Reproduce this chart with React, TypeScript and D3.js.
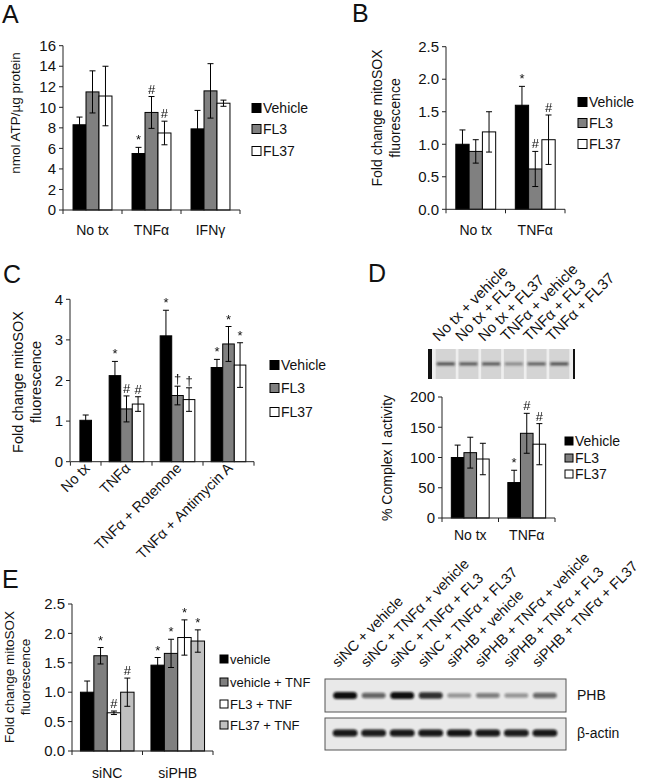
import React from "react";
import * as d3 from "d3";

const FONT = "'Liberation Sans', Arial, Helvetica, sans-serif";

// ---------- Panel A ----------
const catsA = ["No tx", "TNFα", "IFNγ"];
const namesA = ["Vehicle", "FL3", "FL37"];
const vehicleA = [8.3, 5.5, 7.9];
const fl3A = [11.5, 9.5, 11.6];
const fl37A = [11.1, 7.5, 10.4];
const vehicleErrA = [0.75, 0.6, 1.8];
const fl3ErrA = [2.05, 1.55, 2.65];
const fl37ErrA = [2.9, 1.15, 0.3];
const vehicleMarkA = ["", "*", ""];
const fl3MarkA = ["", "#", ""];
const fl37MarkA = ["", "#", ""];
const ticksA = [0, 2, 4, 6, 8, 10, 12, 14, 16];

// ---------- Panel B ----------
const catsB = ["No tx", "TNFα"];
const vehicleB = [1.0, 1.6];
const fl3B = [0.89, 0.62];
const fl37B = [1.19, 1.07];
const vehicleErrB = [0.22, 0.29];
const fl3ErrB = [0.18, 0.27];
const fl37ErrB = [0.31, 0.38];
const vehicleMarkB = ["", "*"];
const fl3MarkB = ["", "#"];
const fl37MarkB = ["", "#"];
const ticksB = [0, 0.5, 1, 1.5, 2, 2.5];

// ---------- Panel C ----------
const catsC = ["No tx", "TNFα", "TNFα + Rotenone", "TNFα + Antimycin A"];
const vehicleC = [1.02, 2.12, 3.1, 2.32];
const fl3C: (number | null)[] = [null, 1.3, 1.63, 2.9];
const fl37C: (number | null)[] = [null, 1.42, 1.53, 2.38];
const vehicleErrC = [0.13, 0.35, 0.63, 0.2];
const fl3ErrC: (number | null)[] = [null, 0.32, 0.23, 0.43];
const fl37ErrC: (number | null)[] = [null, 0.18, 0.29, 0.55];
const vehicleMarkC = ["", "*", "*", "*"];
const fl3MarkC = ["", "#", "†", "*"];
const fl37MarkC = ["", "#", "†", "*"];
const ticksC = [0, 1, 2, 3, 4];

// ---------- Panel D ----------
const lanesD = ["No tx + vehicle", "No tx + FL3", "No tx + FL37", "TNFα + vehicle", "TNFα + FL3", "TNFα + FL37"];
const bandD = [0.8, 0.75, 0.75, 0.45, 0.7, 0.8];
const catsD = ["No tx", "TNFα"];
const vehicleD = [100, 58.6];
const fl3D = [108, 140];
const fl37D = [97.5, 122];
const vehicleErrD = [20.5, 20.3];
const fl3ErrD = [25.5, 33];
const fl37ErrD = [26, 34];
const vehicleMarkD = ["", "*"];
const fl3MarkD = ["", "#"];
const fl37MarkD = ["", "#"];
const ticksD = [0, 50, 100, 150, 200];

// ---------- Panel E ----------
const catsE = ["siNC", "siPHB"];
const namesE = ["vehicle", "vehicle + TNF", "FL3 + TNF", "FL37 + TNF"];
const vehicleE = [1.0, 1.46];
const vehTnfE = [1.62, 1.66];
const fl3TnfE = [0.65, 1.93];
const fl37TnfE = [1.0, 1.87];
const vehicleErrE = [0.19, 0.13];
const vehTnfErrE = [0.14, 0.24];
const fl3TnfErrE = [0.03, 0.3];
const fl37TnfErrE = [0.24, 0.19];
const vehicleMarkE = ["", "*"];
const vehTnfMarkE = ["*", "*"];
const fl3TnfMarkE = ["#", "*"];
const fl37TnfMarkE = ["#", "*"];
const ticksE = [0, 0.5, 1, 1.5, 2, 2.5];
const lanesE = [
  "siNC + vehicle",
  "siNC + TNFα + vehicle",
  "siNC + TNFα + FL3",
  "siNC + TNFα + FL37",
  "siPHB + vehicle",
  "siPHB + TNFα + vehicle",
  "siPHB + TNFα + FL3",
  "siPHB + TNFα + FL37",
];
const phbE = [1.0, 0.6, 1.0, 0.85, 0.38, 0.48, 0.38, 0.58];
const actinE = [0.95, 0.93, 0.95, 0.95, 0.97, 0.95, 0.93, 0.95];

type Series = {
  name: string;
  color: string;
  values: (number | null)[];
  errors: (number | null)[];
  marks: string[];
};

const threeColors = ["#000000", "#808080", "#ffffff"];
const fourColors = ["#000000", "#7f7f7f", "#ffffff", "#c0c0c0"];

function mk(names: string[], colors: string[], vals: any[], errs: any[], marks: string[][]): Series[] {
  return names.map((n, i) => ({ name: n, color: colors[i], values: vals[i], errors: errs[i], marks: marks[i] }));
}

function YAxis({ y, x, ticks, fmt, size = 15 }: any) {
  return (
    <g>
      <line x1={x} x2={x} y1={y(ticks[ticks.length - 1])} y2={y(0)} stroke="#222" strokeWidth={1} />
      {ticks.map((t: number) => (
        <g key={t}>
          <line x1={x - 4} x2={x} y1={y(t)} y2={y(t)} stroke="#222" />
          <text x={x - 7} y={y(t)} dy="0.35em" textAnchor="end" fontSize={size} fontFamily={FONT} fill="#111">
            {fmt(t)}
          </text>
        </g>
      ))}
    </g>
  );
}

function Bars({ edges, y, series, frac }: { edges: [number, number][]; y: any; series: Series[]; frac: number }) {
  const full = edges.reduce((m, e) => Math.max(m, e[1] - e[0]), 0);
  const barW = (full * frac) / series.length;
  const out: any[] = [];
  const marks: any[] = [];
  edges.forEach(([e0, e1], gi) => {
    const present = series.filter((s) => s.values[gi] != null);
    const c = (e0 + e1) / 2;
    const start = c - (present.length * barW) / 2;
    present.forEach((s, j) => {
      const v = s.values[gi] as number;
      const e = (s.errors[gi] ?? 0) as number;
      const bx = start + j * barW;
      const cx = bx + barW / 2;
      out.push(
        <rect key={`b${gi}-${j}`} x={bx} y={y(v)} width={barW} height={y(0) - y(v)} fill={s.color} stroke="#000" strokeWidth={1} />
      );
      out.push(
        <g key={`e${gi}-${j}`} stroke="#000" strokeWidth={1}>
          <line x1={cx} x2={cx} y1={y(v - e)} y2={y(v + e)} />
          <line x1={cx - 3} x2={cx + 3} y1={y(v + e)} y2={y(v + e)} />
          <line x1={cx - 3} x2={cx + 3} y1={y(v - e)} y2={y(v - e)} />
        </g>
      );
      const m = s.marks[gi];
      if (m) {
        marks.push(
          <text key={`m${gi}-${j}`} x={cx} y={y(v + e) - 3} textAnchor="middle" fontSize={13} fontFamily={FONT} fill="#111">
            {m}
          </text>
        );
      }
    });
  });
  return (
    <g>
      {out}
      <g filter="url(#noop)">{marks}</g>
    </g>
  );
}

function XAxis({ edges, y0 }: { edges: [number, number][]; y0: number }) {
  const xs = [edges[0][0], ...edges.map((e) => e[1])];
  return (
    <g stroke="#222">
      <line x1={xs[0]} x2={xs[xs.length - 1]} y1={y0} y2={y0} />
      {xs.map((x, i) => (
        <line key={i} x1={x} x2={x} y1={y0} y2={y0 + 4} />
      ))}
    </g>
  );
}

function Legend({ x, ys, series, size = 14, sq = 9 }: any) {
  return (
    <g>
      {series.map((s: Series, i: number) => (
        <g key={s.name}>
          <rect x={x} y={ys[i] - sq / 2} width={sq} height={sq} fill={s.color} stroke="#000" strokeWidth={1} />
          <text x={x + sq + 2} y={ys[i]} dy="0.35em" fontSize={size} fontFamily={FONT} fill="#111">
            {s.name}
          </text>
        </g>
      ))}
    </g>
  );
}

function YTitle({ x, y, lines, size = 14, gap = 17 }: any) {
  return (
    <g>
      {lines.map((l: string, i: number) => (
        <text
          key={i}
          transform={`translate(${x + i * gap},${y}) rotate(-90)`}
          textAnchor="middle"
          dy="0.35em"
          fontSize={size}
          fontFamily={FONT}
          fill="#111"
        >
          {l}
        </text>
      ))}
    </g>
  );
}

function Letter({ x, y, t }: any) {
  return (
    <text x={x} y={y} fontSize={25} fontFamily={FONT} fill="#111">
      {t}
    </text>
  );
}

function bandEdges(cats: string[], r0: number, r1: number): [number, number][] {
  const b = d3.scaleBand<string>().domain(cats).range([r0, r1]).padding(0);
  return cats.map((c) => [b(c) as number, (b(c) as number) + b.bandwidth()]);
}

function CatLabels({ cats, edges, y }: any) {
  return (
    <g>
      {cats.map((c: string, i: number) => (
        <text key={c} x={(edges[i][0] + edges[i][1]) / 2} y={y} textAnchor="middle" fontSize={14} fontFamily={FONT} fill="#111">
          {c}
        </text>
      ))}
    </g>
  );
}

export default function App() {
  // A
  const yA = d3.scaleLinear().domain([0, 16]).range([210, 45.7]);
  const edgesA = bandEdges(catsA, 63, 240);
  const seriesA = mk(namesA, threeColors, [vehicleA, fl3A, fl37A], [vehicleErrA, fl3ErrA, fl37ErrA], [vehicleMarkA, fl3MarkA, fl37MarkA]);

  // B
  const yB = d3.scaleLinear().domain([0, 2.5]).range([209.3, 46.7]);
  const edgesB = bandEdges(catsB, 446, 565);
  const seriesB = mk(namesA, threeColors, [vehicleB, fl3B, fl37B], [vehicleErrB, fl3ErrB, fl37ErrB], [vehicleMarkB, fl3MarkB, fl37MarkB]);

  // C (first category narrower)
  const yC = d3.scaleLinear().domain([0, 4]).range([461.7, 299.3]);
  const xC = d3.scaleLinear().domain([0, 3]).range([101, 254]);
  const bC = [-0.6, 0, 1, 2, 3];
  const edgesC: [number, number][] = catsC.map((_, i) => [xC(bC[i]), xC(bC[i + 1])]);
  const seriesC = mk(namesA, threeColors, [vehicleC, fl3C, fl37C], [vehicleErrC, fl3ErrC, fl37ErrC], [vehicleMarkC, fl3MarkC, fl37MarkC]);

  // D
  const yD = d3.scaleLinear().domain([0, 200]).range([518, 397]);
  const edgesD = bandEdges(catsD, 442, 555);
  const seriesD = mk(namesA, threeColors, [vehicleD, fl3D, fl37D], [vehicleErrD, fl3ErrD, fl37ErrD], [vehicleMarkD, fl3MarkD, fl37MarkD]);
  const laneD = d3.scaleBand<string>().domain(lanesD).range([433, 572]).padding(0.12);

  // E
  const yE = d3.scaleLinear().domain([0, 2.5]).range([751, 604]);
  const edgesE = bandEdges(catsE, 72, 213);
  const seriesE = mk(
    namesE,
    fourColors,
    [vehicleE, vehTnfE, fl3TnfE, fl37TnfE],
    [vehicleErrE, vehTnfErrE, fl3TnfErrE, fl37TnfErrE],
    [vehicleMarkE, vehTnfMarkE, fl3TnfMarkE, fl37TnfMarkE]
  );
  const laneE = d3.scaleBand<string>().domain(lanesE).range([328, 562]).padding(0.2);

  const f1 = d3.format(".1f");
  const f0 = d3.format("d");

  return (
    <svg
      width={652}
      height={780}
      style={{ position: "absolute", left: 0, top: 0, background: "#fff" }}
      xmlns="http://www.w3.org/2000/svg"
    >
      <defs>
        <filter id="blur1" x="-30%" y="-100%" width="160%" height="300%">
          <feGaussianBlur stdDeviation="0.9" />
        </filter>
        <filter id="blur2" x="-30%" y="-100%" width="160%" height="300%">
          <feGaussianBlur stdDeviation="1.3" />
        </filter>
        <filter id="noop" x="-10%" y="-10%" width="120%" height="120%">
          <feOffset dx="0" dy="0" />
        </filter>
      </defs>
      <rect width={652} height={780} fill="#fff" />

      {/* ---------- A ---------- */}
      <Letter x={2} y={23} t="A" />
      <YAxis y={yA} x={63} ticks={ticksA} fmt={f0} />
      <Bars edges={edgesA} y={yA} series={seriesA} frac={0.66} />
      <XAxis edges={edgesA} y0={210} />
      <CatLabels cats={catsA} edges={edgesA} y={235} />
      <YTitle x={15} y={113} lines={["nmol ATP/µg protein"]} size={13.5} />
      <Legend x={252} ys={[108, 129, 151]} series={seriesA} />

      {/* ---------- B ---------- */}
      <Letter x={352} y={22} t="B" />
      <YAxis y={yB} x={446} ticks={ticksB} fmt={f1} />
      <Bars edges={edgesB} y={yB} series={seriesB} frac={0.67} />
      <XAxis edges={edgesB} y0={209.3} />
      <CatLabels cats={catsB} edges={edgesB} y={235} />
      <YTitle x={377} y={118} lines={["Fold change mitoSOX", "fluorescence"]} size={14} gap={18} />
      <Legend x={578} ys={[102, 123, 144]} series={seriesB} />

      {/* ---------- C ---------- */}
      <Letter x={3} y={283} t="C" />
      <YAxis y={yC} x={70} ticks={ticksC} fmt={f0} />
      <Bars edges={edgesC} y={yC} series={seriesC} frac={0.68} />
      <XAxis edges={edgesC} y0={461.7} />
      {catsC.map((c, i) => (
        <text
          key={c}
          transform={`translate(${(edgesC[i][0] + edgesC[i][1]) / 2 + 5},${469}) rotate(-45)`}
          textAnchor="end"
          fontSize={14.5}
          fontFamily={FONT}
          fill="#111"
        >
          {c}
        </text>
      ))}
      <YTitle x={18} y={382} lines={["Fold change mitoSOX", "fluorescence"]} size={14.5} gap={18} />
      <Legend x={270} ys={[365, 388, 412]} series={seriesC} />

      {/* ---------- D ---------- */}
      <Letter x={368} y={282} t="D" />
      <rect x={428} y={349} width={147} height={30} fill="#eeeeee" />
      {lanesD.map((l, i) => {
        const x0 = laneD(l) as number;
        const w = laneD.bandwidth();
        return (
          <g key={l}>
            <rect x={x0} y={349} width={w} height={30} fill="#d4d4d4" />
            <rect
              x={x0 + 1}
              y={362.3}
              width={w - 2}
              height={3.2}
              fill="#333"
              opacity={bandD[i]}
              filter="url(#blur1)"
            />
          </g>
        );
      })}
      <rect x={428} y={349} width={4} height={30} fill="#111" />
      <rect x={573} y={349} width={2} height={30} fill="#111" />
      {lanesD.map((l) => (
        <text
          key={l}
          transform={`translate(${(laneD(l) as number) + laneD.bandwidth() / 2 - 7},${342}) rotate(-45)`}
          fontSize={15}
          fontFamily={FONT}
          fill="#111"
        >
          {l}
        </text>
      ))}
      <YAxis y={yD} x={442} ticks={ticksD} fmt={f0} />
      <Bars edges={edgesD} y={yD} series={seriesD} frac={0.67} />
      <XAxis edges={edgesD} y0={518} />
      <CatLabels cats={catsD} edges={edgesD} y={540} />
      <YTitle x={387} y={458} lines={["% Complex I activity"]} size={14} />
      <Legend x={565} ys={[441, 458, 474]} series={seriesD} sq={8} />

      {/* ---------- E ---------- */}
      <Letter x={2} y={588} t="E" />
      <YAxis y={yE} x={72} ticks={ticksE} fmt={f1} />
      <Bars edges={edgesE} y={yE} series={seriesE} frac={0.76} />
      <XAxis edges={edgesE} y0={751} />
      <CatLabels cats={catsE} edges={edgesE} y={778} />
      <YTitle x={9} y={677} lines={["Fold change mitoSOX", "fluorescence"]} size={13.5} gap={16} />
      <Legend x={220} ys={[659, 682, 704, 725]} series={seriesE} size={13} sq={8} />

      {/* blot */}
      <rect x={325} y={679} width={241} height={33} fill="#e9e9e9" stroke="#555" strokeWidth={1} />
      <rect x={325} y={718} width={241} height={32} fill="#e9e9e9" stroke="#555" strokeWidth={1} />
      {lanesE.map((l, i) => {
        const cx = (laneE(l) as number) + laneE.bandwidth() / 2;
        const w = laneE.bandwidth() + 1;
        const hp = 3 + 4 * phbE[i];
        return (
          <g key={l}>
            <rect
              x={cx - w / 2}
              y={695.5 - hp / 2}
              width={w}
              height={hp}
              rx={hp / 2}
              fill="#0a0a0a"
              opacity={phbE[i]}
              filter="url(#blur2)"
            />
            <rect
              x={cx - w / 2 - 0.5}
              y={733 - 3.6}
              width={w + 1}
              height={7.2}
              rx={3.6}
              fill="#0a0a0a"
              opacity={actinE[i]}
              filter="url(#blur2)"
            />
            <text
              transform={`translate(${cx - 7},${668}) rotate(-45)`}
              fontSize={14.5}
              fontFamily={FONT}
              fill="#111"
            >
              {l}
            </text>
          </g>
        );
      })}
      <text x={577} y={700} fontSize={14} fontFamily={FONT} fill="#111">
        PHB
      </text>
      <text x={577} y={738} fontSize={14} fontFamily={FONT} fill="#111">
        β-actin
      </text>
    </svg>
  );
}
